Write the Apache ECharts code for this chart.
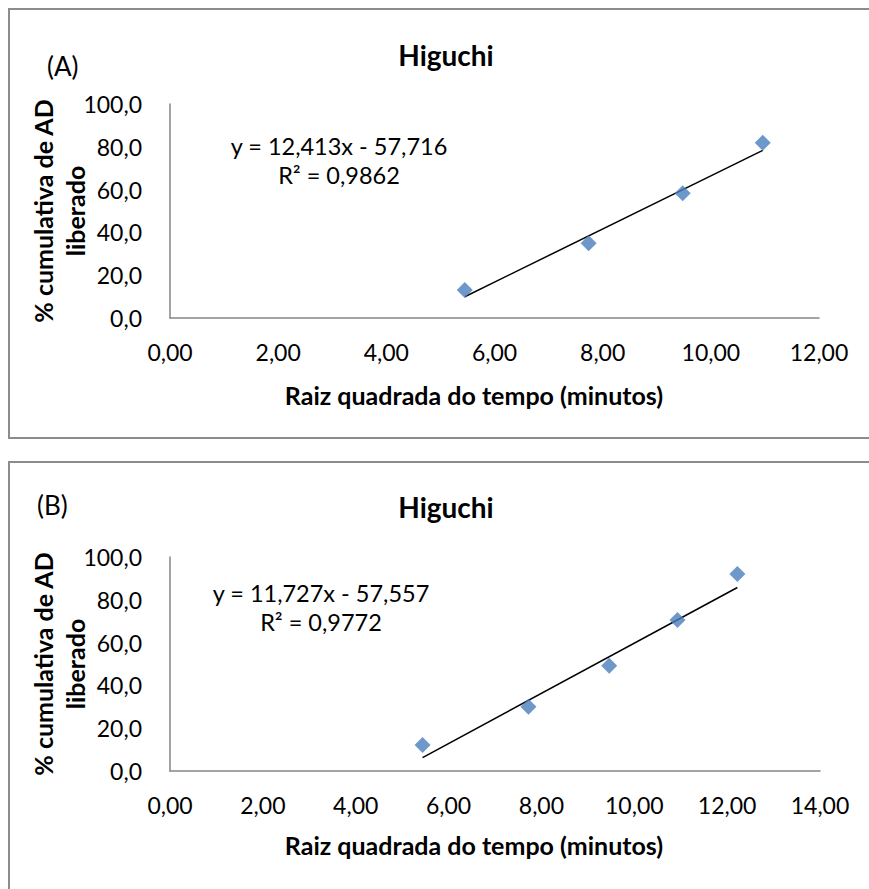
<!DOCTYPE html>
<html>
<head>
<meta charset="utf-8">
<script src="https://cdn.jsdelivr.net/npm/echarts@6/dist/echarts.min.js"></script>
<style>
html,body{margin:0;padding:0;background:#fff;}
#c{width:869px;height:889px;}
</style>
</head>
<body>
<div id="c"></div>
<script>
// Panel A data (sqrt time vs % cumulative released)
const xA = [5.45, 7.74, 9.48, 10.96];
const yA = [13.1, 34.9, 58.3, 81.9];
const fitA = [12.413, -57.716];
const eqA = ['y = 12,413x - 57,716', 'R² = 0,9862'];
// Panel B data
const xB = [5.44, 7.72, 9.46, 10.93, 12.22];
const yB = [12.1, 30.0, 49.2, 70.6, 92.1];
const fitB = [11.727, -57.557];
const eqB = ['y = 11,727x - 57,557', 'R² = 0,9772'];
// Axes
const xMaxA = 12, xMaxB = 14, xStep = 2;
const yMax = 100, yStep = 20;
const titleText = 'Higuchi';
const panelLabels = ['(A)', '(B)'];
const xName = 'Raiz quadrada do tempo (minutos)';
const yName = '% cumulativa de AD\nliberado';

const FONT = 'Lato, "Open Sans", sans-serif';
const AX = '#868686';
const BLUE = '#4A7EBB';

function pts(xs, ys){ return xs.map((x,i)=>[x, ys[i]]); }
function fitLine(xs, f){
  const lo = Math.min(...xs), hi = Math.max(...xs);
  return [[lo, f[0]*lo + f[1]], [hi, f[0]*hi + f[1]]];
}

const grids = [
  {left:170, top:104, width:649, height:214},
  {left:170, top:557, width:650, height:214}
];

function xAxis(i, max){
  return {
    gridIndex:i, type:'value', min:0, max:max, interval:xStep,
    axisLine:{show:true, lineStyle:{color:AX, width:1.5}},
    axisTick:{show:false}, splitLine:{show:false},
    axisLabel:{color:'#000', fontFamily:FONT, fontSize:23, margin:22,
      formatter:v=>v.toFixed(2).replace('.', ',')}
  };
}
function yAxis(i){
  return {
    gridIndex:i, type:'value', min:0, max:yMax, interval:yStep,
    axisLine:{show:true, lineStyle:{color:AX, width:1.5}},
    axisTick:{show:false}, splitLine:{show:false},
    axisLabel:{color:'#000', fontFamily:FONT, fontSize:23, margin:28,
      formatter:v=>v.toFixed(1).replace('.', ',')}
  };
}

function panelGraphics(p, cfg){
  return [
    {type:'text', x:446, y:cfg.titleY, style:{text:titleText, font:'bold 28px '+FONT, fill:'#000', align:'center', verticalAlign:'middle'}},
    {type:'text', x:cfg.labelX, y:cfg.labelY, style:{text:panelLabels[p], font:'26px '+FONT, fill:'#000', align:'left', verticalAlign:'middle'}},
    {type:'text', x:474, y:cfg.xNameY, style:{text:xName, font:'bold 25px '+FONT, fill:'#000', align:'center', verticalAlign:'middle'}},
    {type:'text', x:59, y:cfg.yNameY, rotation:Math.PI/2, style:{text:yName, font:'bold 25px '+FONT, lineHeight:32, fill:'#000', align:'center', verticalAlign:'middle'}},
    {type:'text', x:cfg.eqX, y:cfg.eqY, style:{text:cfg.eq.join('\n'), font:'23.5px '+FONT, lineHeight:29, fill:'#000', align:'center', verticalAlign:'middle'}}
  ];
}

const chart = echarts.init(document.getElementById('c'), null, {renderer:'svg'});
chart.setOption({
  animation:false,
  backgroundColor:'#fff',
  grid:grids,
  xAxis:[xAxis(0, xMaxA), xAxis(1, xMaxB)],
  yAxis:[yAxis(0), yAxis(1)],
  graphic:[
    {type:'rect', shape:{x:9, y:9, width:900, height:429}, style:{fill:'none', stroke:'#8c8c8c', lineWidth:2}},
    {type:'rect', shape:{x:9, y:462, width:900, height:460}, style:{fill:'none', stroke:'#8c8c8c', lineWidth:2}},
    ...panelGraphics(0, {titleY:55, labelX:47, labelY:66, xNameY:395, yNameY:211, eq:eqA, eqX:339, eqY:160}),
    ...panelGraphics(1, {titleY:507, labelX:37, labelY:505, xNameY:845, yNameY:664, eq:eqB, eqX:321, eqY:607})
  ],
  series:[
    {type:'line', xAxisIndex:0, yAxisIndex:0, data:fitLine(xA, fitA), showSymbol:false, symbol:'none',
      lineStyle:{color:'#000', width:1.5}, z:2},
    {type:'scatter', xAxisIndex:0, yAxisIndex:0, data:pts(xA, yA), symbol:'diamond', symbolSize:[16,16],
      itemStyle:{color:BLUE}, z:3},
    {type:'line', xAxisIndex:1, yAxisIndex:1, data:fitLine(xB, fitB), showSymbol:false, symbol:'none',
      lineStyle:{color:'#000', width:1.5}, z:2},
    {type:'scatter', xAxisIndex:1, yAxisIndex:1, data:pts(xB, yB), symbol:'diamond', symbolSize:[16,16],
      itemStyle:{color:BLUE}, z:3}
  ]
});
</script>
</body>
</html>
